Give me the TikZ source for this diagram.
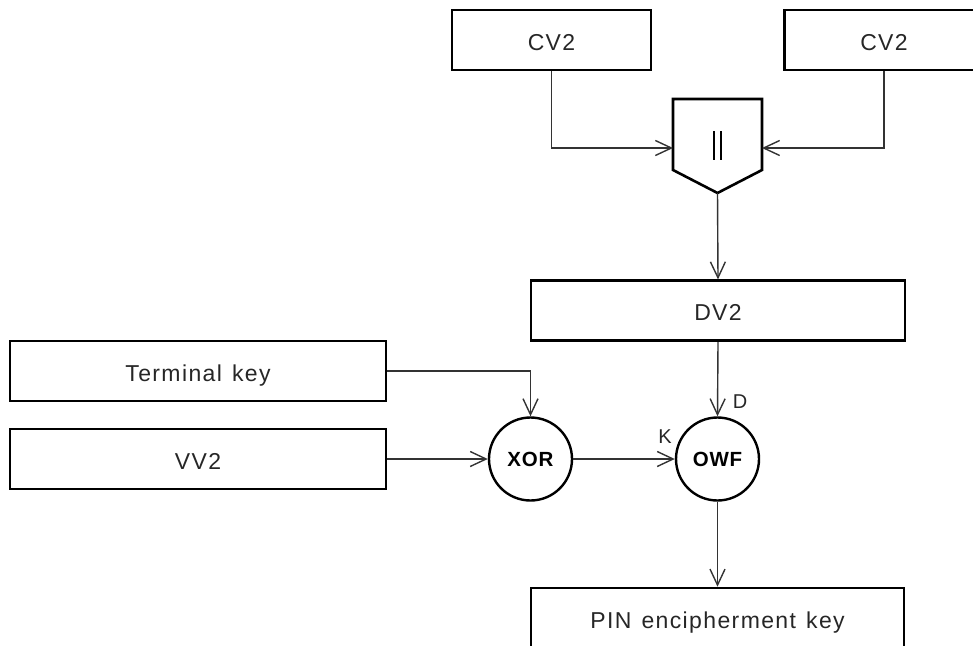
\documentclass[tikz,border=0pt]{standalone}
\usepackage{fontspec}
\setmainfont{Liberation Sans}
\newfontfamily\boxfont[LetterSpace=6,WordSpace=1.3]{Liberation Sans}
\newfontfamily\opfont[LetterSpace=4]{Liberation Sans}
\usetikzlibrary{arrows.meta}
\begin{document}
\begin{tikzpicture}[x=1pt,y=-1pt,
  box/.style={draw=black,line width=2.6pt,minimum height=60pt,inner sep=0pt,
    text height=20pt,text depth=0pt,
    font=\boxfont\fontsize{23}{27}\selectfont,text=black!85},
  op/.style={draw=black,line width=2.4pt,circle,minimum size=83pt,inner sep=0pt,
    font=\opfont\bfseries\fontsize{20.5}{24}\selectfont},
  conn/.style={line width=1.4pt,draw=black!80,-{Straight Barb[length=16pt,width=15pt]}},
  lbl/.style={font=\fontsize{20}{24}\selectfont,text=black!85,inner sep=0pt}]
\useasboundingbox (0,0) rectangle (973,645);
% boxes
\node[box,minimum width=199pt] (cva) at (551.5,40) {CV2};
\node[box,minimum width=199pt] (cvb) at (884,40) {CV2};
\node[box,minimum width=374pt] (dv) at (718,310.7) {DV2};
\node[box,minimum width=376pt] (tk) at (198,371) {Terminal key};
\node[box,minimum width=376pt] (vv) at (198,459) {VV2};
\node[box,minimum width=373pt] (pin) at (717.5,618) {PIN encipherment key};
% operators
\node[op] (xor) at (530.5,459) {XOR};
\node[op] (owf) at (717.5,459) {OWF};
% concatenation pentagon
\coordinate (catW) at (673,148);
\coordinate (catE) at (762,148);
\coordinate (catS) at (717.5,193);
\draw[line width=2.6pt,line join=miter] (673,99) -- (762,99) -- (762,170) -- (catS) -- (673,170) -- cycle;
\draw[line width=1.9pt] (714,131) -- (714,160) (721.3,131) -- (721.3,160);
% connectors
\draw[conn] (cva.south) |- (catW);
\draw[conn] (cvb.south) |- (catE);
\draw[conn] (catS) -- (dv.north);
\draw[conn] (dv.south) -- (owf.north);
\draw[conn] (tk.east) -| (xor.north);
\draw[conn] (vv.east) -- (xor.west);
\draw[conn] (xor.east) -- (owf.west);
\draw[conn] (owf.south) -- (pin.north);
% labels
\node[lbl] (kl) at (665,437) {K};
\node[lbl] (dl) at (740,402) {D};
\end{tikzpicture}
\end{document}
